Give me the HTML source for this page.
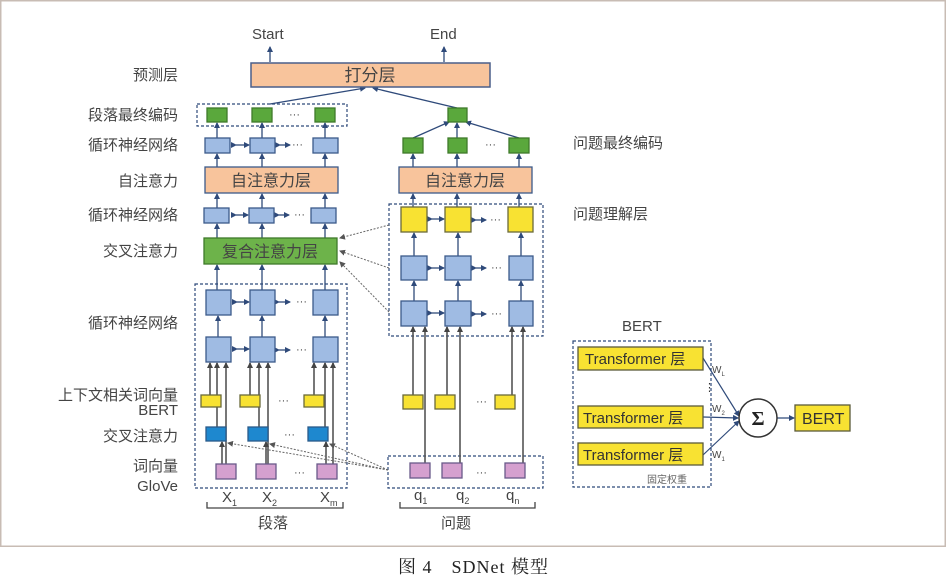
<!DOCTYPE html>
<html><head><meta charset="utf-8"><style>
body{margin:0;background:#fff;}
svg{display:block;}
text{font-family:"Liberation Sans","Noto Sans CJK SC",sans-serif;}
</style></head><body>
<svg width="946" height="577" viewBox="0 0 946 577" xmlns="http://www.w3.org/2000/svg">
<defs>
<marker id="a" markerWidth="6" markerHeight="6" refX="5" refY="3" orient="auto" markerUnits="userSpaceOnUse"><path d="M0,0 L6,3 L0,6 z" fill="#2f4a7a"/></marker>
<marker id="g" markerWidth="6" markerHeight="6" refX="5" refY="3" orient="auto" markerUnits="userSpaceOnUse"><path d="M0,0 L6,3 L0,6 z" fill="#444"/></marker>
<marker id="d" markerWidth="6" markerHeight="6" refX="5" refY="3" orient="auto" markerUnits="userSpaceOnUse"><path d="M0,0 L6,3 L0,6 z" fill="#555"/></marker>
</defs>
<rect x="0.75" y="0.75" width="944.5" height="545.5" fill="#fff" stroke="#c8bcb4" stroke-width="1.5"/>

<g font-size="15" fill="#444" text-anchor="end">
<text x="178" y="80">预测层</text>
<text x="178" y="120">段落最终编码</text>
<text x="178" y="150">循环神经网络</text>
<text x="178" y="186">自注意力</text>
<text x="178" y="220">循环神经网络</text>
<text x="178" y="256">交叉注意力</text>
<text x="178" y="328">循环神经网络</text>
<text x="178" y="400">上下文相关词向量</text>
<text x="178" y="415">BERT</text>
<text x="178" y="441">交叉注意力</text>
<text x="178" y="471">词向量</text>
<text x="178" y="491">GloVe</text>
</g>
<g font-size="15" fill="#444">
<text x="573" y="148">问题最终编码</text>
<text x="573" y="219">问题理解层</text>
<text x="252" y="39">Start</text>
<text x="430" y="39">End</text>
<text x="622" y="331">BERT</text>
</g>

<g stroke="#2f4a7a" stroke-width="1.3" fill="none" marker-end="url(#a)">
<line x1="270" y1="62" x2="270" y2="47"/>
<line x1="444" y1="62" x2="444" y2="47"/>
<line x1="270" y1="104" x2="365" y2="88"/>
<line x1="457" y1="108" x2="373" y2="88"/>
<line x1="413" y1="138" x2="449" y2="122"/>
<line x1="457" y1="138" x2="457" y2="123"/>
<line x1="519" y1="138" x2="466" y2="122"/>
</g>

<rect x="251" y="63" width="239" height="24" fill="#f8c49c" stroke="#4a5f8a" stroke-width="1.5"/>
<text x="370" y="81" font-size="17" fill="#444" text-anchor="middle">打分层</text>

<g fill="none" stroke="#2f4a7a" stroke-width="1.2" stroke-dasharray="3,2">
<rect x="197" y="104" width="150" height="22"/>
<rect x="389" y="204" width="154" height="132"/>
<rect x="195" y="284" width="152" height="204"/>
<rect x="388" y="456" width="155" height="32"/>
<rect x="573" y="341" width="138" height="146"/>
</g>

<g stroke="#2f4a7a" stroke-width="1.3" marker-end="url(#a)">
<line x1="217" y1="138" x2="217" y2="123"/><line x1="262" y1="138" x2="262" y2="123"/><line x1="325" y1="138" x2="325" y2="123"/>
<line x1="217" y1="167" x2="217" y2="154"/><line x1="262" y1="167" x2="262" y2="154"/><line x1="325" y1="167" x2="325" y2="154"/>
<line x1="217" y1="208" x2="217" y2="194"/><line x1="262" y1="208" x2="262" y2="194"/><line x1="325" y1="208" x2="325" y2="194"/>
<line x1="217" y1="238" x2="217" y2="224"/><line x1="262" y1="238" x2="262" y2="224"/><line x1="325" y1="238" x2="325" y2="224"/>
<line x1="217" y1="290" x2="217" y2="265"/><line x1="262" y1="290" x2="262" y2="265"/><line x1="325" y1="290" x2="325" y2="265"/>
<line x1="218" y1="337" x2="218" y2="316"/><line x1="262" y1="337" x2="262" y2="316"/><line x1="325" y1="337" x2="325" y2="316"/>
<line x1="413" y1="167" x2="413" y2="154"/><line x1="457" y1="167" x2="457" y2="154"/><line x1="519" y1="167" x2="519" y2="154"/>
<line x1="413" y1="207" x2="413" y2="194"/><line x1="457" y1="207" x2="457" y2="194"/><line x1="519" y1="207" x2="519" y2="194"/>
<line x1="414" y1="256" x2="414" y2="233"/><line x1="458" y1="256" x2="458" y2="233"/><line x1="521" y1="256" x2="521" y2="233"/>
<line x1="414" y1="301" x2="414" y2="281"/><line x1="458" y1="301" x2="458" y2="281"/><line x1="521" y1="301" x2="521" y2="281"/>
<line x1="236" y1="145" x2="249" y2="145" marker-start="url(#a)"/>
<line x1="236" y1="215" x2="248" y2="215" marker-start="url(#a)"/>
<line x1="237" y1="302" x2="249" y2="302" marker-start="url(#a)"/>
<line x1="237" y1="349" x2="249" y2="349" marker-start="url(#a)"/>
<line x1="432" y1="219" x2="444" y2="219" marker-start="url(#a)"/>
<line x1="432" y1="268" x2="444" y2="268" marker-start="url(#a)"/>
<line x1="432" y1="313" x2="444" y2="313" marker-start="url(#a)"/>
<line x1="280" y1="145" x2="290" y2="145" marker-start="url(#a)"/>
<line x1="279" y1="215" x2="289" y2="215" marker-start="url(#a)"/>
<line x1="279" y1="302" x2="290" y2="302" marker-start="url(#a)"/>
<line x1="279" y1="350" x2="290" y2="350" marker-start="url(#a)"/>
<line x1="476" y1="220" x2="486" y2="220" marker-start="url(#a)"/>
<line x1="476" y1="268" x2="486" y2="268" marker-start="url(#a)"/>
<line x1="476" y1="314" x2="486" y2="314" marker-start="url(#a)"/>
</g>
<g font-size="11" fill="#444">
<text x="292" y="148">···</text><text x="294" y="218">···</text><text x="296" y="305">···</text><text x="296" y="353">···</text>
<text x="289" y="118">···</text><text x="485" y="148">···</text>
<text x="490" y="223">···</text><text x="491" y="271">···</text><text x="491" y="317">···</text>
<text x="278" y="404">···</text><text x="284" y="438">···</text><text x="294" y="476">···</text>
<text x="476" y="405">···</text><text x="476" y="476">···</text>
</g>

<g stroke="#555" stroke-width="1.6" marker-end="url(#g)">
<line x1="210" y1="395" x2="210" y2="363"/><line x1="217" y1="427" x2="217" y2="363"/><line x1="226" y1="464" x2="226" y2="363"/>
<line x1="250" y1="395" x2="250" y2="363"/><line x1="259" y1="427" x2="259" y2="363"/><line x1="268" y1="464" x2="268" y2="363"/>
<line x1="314" y1="395" x2="314" y2="363"/><line x1="325" y1="427" x2="325" y2="363"/><line x1="333" y1="464" x2="333" y2="363"/>
<line x1="222" y1="464" x2="222" y2="442"/><line x1="266" y1="464" x2="266" y2="442"/><line x1="326" y1="464" x2="326" y2="442"/>
<line x1="413" y1="395" x2="413" y2="327"/><line x1="425" y1="464" x2="425" y2="327"/>
<line x1="447" y1="395" x2="447" y2="327"/><line x1="460" y1="464" x2="460" y2="327"/>
<line x1="512" y1="395" x2="512" y2="327"/><line x1="523" y1="464" x2="523" y2="327"/>
</g>

<g stroke="#666" stroke-width="1" stroke-dasharray="2,1.5" fill="none" marker-end="url(#d)">
<line x1="389" y1="225" x2="340" y2="238"/>
<line x1="389" y1="268" x2="340" y2="251"/>
<line x1="389" y1="312" x2="340" y2="262"/>
<line x1="388" y1="470" x2="228" y2="443"/>
<line x1="388" y1="470" x2="270" y2="444"/>
<line x1="388" y1="470" x2="330" y2="444"/>
</g>

<g stroke="#3c5a8a" stroke-width="1.3">
<g fill="#5aa83c" stroke="#3e7a2a">
<rect x="207" y="108" width="20" height="14"/><rect x="252" y="108" width="20" height="14"/><rect x="315" y="108" width="20" height="14"/>
<rect x="448" y="108" width="19" height="14"/>
<rect x="403" y="138" width="20" height="15"/><rect x="448" y="138" width="19" height="15"/><rect x="509" y="138" width="20" height="15"/>
</g>
<g fill="#9fbbe3">
<rect x="205" y="138" width="25" height="15"/><rect x="250" y="138" width="25" height="15"/><rect x="313" y="138" width="25" height="15"/>
<rect x="204" y="208" width="25" height="15"/><rect x="249" y="208" width="25" height="15"/><rect x="311" y="208" width="25" height="15"/>
<rect x="206" y="290" width="25" height="25"/><rect x="250" y="290" width="25" height="25"/><rect x="313" y="290" width="25" height="25"/>
<rect x="206" y="337" width="25" height="25"/><rect x="250" y="337" width="25" height="25"/><rect x="313" y="337" width="25" height="25"/>
<rect x="401" y="256" width="26" height="24"/><rect x="445" y="256" width="26" height="24"/><rect x="509" y="256" width="24" height="24"/>
<rect x="401" y="301" width="26" height="25"/><rect x="445" y="301" width="26" height="25"/><rect x="509" y="301" width="24" height="25"/>
</g>
<g fill="#f8e232" stroke="#6a6a3a">
<rect x="401" y="207" width="26" height="25"/><rect x="445" y="207" width="26" height="25"/><rect x="508" y="207" width="25" height="25"/>
<rect x="201" y="395" width="20" height="12"/><rect x="240" y="395" width="20" height="12"/><rect x="304" y="395" width="20" height="12"/>
<rect x="403" y="395" width="20" height="14"/><rect x="435" y="395" width="20" height="14"/><rect x="495" y="395" width="20" height="14"/>
</g>
<g fill="#1e88cf" stroke="#2a5a8a">
<rect x="206" y="427" width="20" height="14"/><rect x="248" y="427" width="20" height="14"/><rect x="308" y="427" width="20" height="14"/>
</g>
<g fill="#d5a0cf" stroke="#6a5a8a">
<rect x="216" y="464" width="20" height="15"/><rect x="256" y="464" width="20" height="15"/><rect x="317" y="464" width="20" height="15"/>
<rect x="410" y="463" width="20" height="15"/><rect x="442" y="463" width="20" height="15"/><rect x="505" y="463" width="20" height="15"/>
</g>
<rect x="205" y="167" width="133" height="26" fill="#f8c49c"/>
<rect x="399" y="167" width="133" height="26" fill="#f8c49c"/>
<rect x="204" y="238" width="133" height="26" fill="#6db34a" stroke="#3e7a2a"/>
</g>
<g font-size="16" fill="#444" text-anchor="middle">
<text x="271" y="186">自注意力层</text>
<text x="465" y="186">自注意力层</text>
<text x="270" y="257">复合注意力层</text>
</g>

<g font-size="15" fill="#444">
<text x="222" y="502">X<tspan font-size="9" dy="4">1</tspan></text>
<text x="262" y="502">X<tspan font-size="9" dy="4">2</tspan></text>
<text x="320" y="502">X<tspan font-size="9" dy="4">m</tspan></text>
<text x="414" y="500">q<tspan font-size="9" dy="4">1</tspan></text>
<text x="456" y="500">q<tspan font-size="9" dy="4">2</tspan></text>
<text x="506" y="500">q<tspan font-size="9" dy="4">n</tspan></text>
<text x="258" y="528">段落</text>
<text x="441" y="528">问题</text>
</g>
<g stroke="#444" stroke-width="1.3" fill="none">
<path d="M207,502 V508 H343 V502"/>
<path d="M400,502 V508 H535 V502"/>
</g>

<g stroke="#2f4a7a" stroke-width="1.2" marker-end="url(#a)">
<line x1="703" y1="358" x2="739" y2="416"/>
<line x1="703" y1="417" x2="738" y2="418"/>
<line x1="703" y1="455" x2="739" y2="421"/>
<line x1="777" y1="418" x2="794" y2="418"/>
</g>
<g fill="#f8e232" stroke="#5a5a3a" stroke-width="1.3">
<rect x="578" y="347" width="125" height="23"/>
<rect x="578" y="406" width="125" height="22"/>
<rect x="578" y="443" width="125" height="22"/>
<rect x="795" y="405" width="55" height="26"/>
</g>
<g font-size="15" fill="#333">
<text x="585" y="364">Transformer 层</text>
<text x="583" y="423">Transformer 层</text>
<text x="583" y="460">Transformer 层</text>
<text x="802" y="424" font-size="16">BERT</text>
</g>
<text x="704" y="391" font-size="11" fill="#333">⋮</text>
<g font-size="10" fill="#444">
<text x="712" y="373">W<tspan font-size="6" dy="3">L</tspan></text>
<text x="712" y="412">W<tspan font-size="6" dy="3">2</tspan></text>
<text x="712" y="458">W<tspan font-size="6" dy="3">1</tspan></text>
<text x="647" y="483" fill="#666">固定权重</text>
</g>
<circle cx="758" cy="418" r="19" fill="#fff" stroke="#333" stroke-width="1.5"/>
<text x="758" y="425" font-size="20" font-weight="bold" text-anchor="middle" style="font-family:'Liberation Serif',serif" fill="#222">Σ</text>

<text x="398" y="573" font-size="18" fill="#222" letter-spacing="1" style="font-family:'Liberation Serif','Noto Serif CJK SC',serif">图 4　SDNet 模型</text>
</svg>
</body></html>
